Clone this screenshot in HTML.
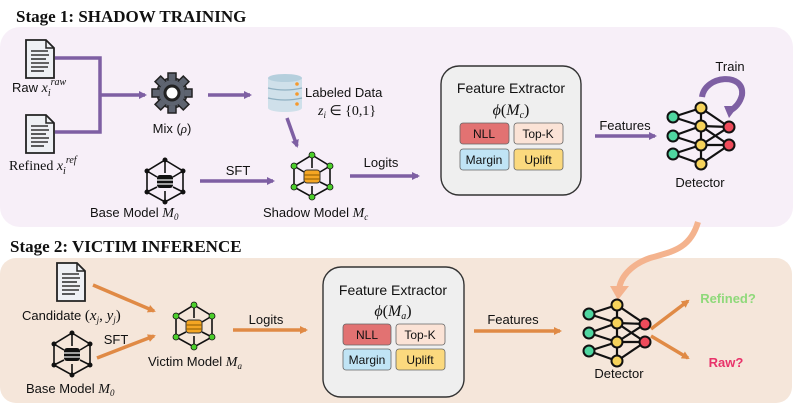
<!DOCTYPE html>
<html><head><meta charset="utf-8"><style>
body{margin:0;background:#fff}
svg{display:block}
text{font-family:"Liberation Sans","DejaVu Sans",sans-serif;fill:#111}
.s{font-family:"Liberation Serif",serif;font-weight:bold;font-size:17px}
.m{font-family:"Liberation Serif",serif;font-style:italic}
</style></head><body>
<svg width="793" height="406" viewBox="0 0 793 406" xmlns="http://www.w3.org/2000/svg">
<defs>
<marker id="ap" markerWidth="8" markerHeight="8" refX="6" refY="4" orient="auto" markerUnits="userSpaceOnUse"><path d="M0,0 L8,4 L0,8 Z" fill="#7e5fa3"/></marker>
<marker id="ao" markerWidth="8" markerHeight="8" refX="6" refY="4" orient="auto" markerUnits="userSpaceOnUse"><path d="M0,0 L8,4 L0,8 Z" fill="#e08a45"/></marker>
<g id="doc">
<path d="M0,0 H20 L28,8 V38 H0 Z" fill="#eef0f4" stroke="#222" stroke-width="1.8"/>
<path d="M20,0 V8 H28" fill="none" stroke="#222" stroke-width="1.5"/>
<g stroke="#333" stroke-width="1.6"><line x1="5" y1="11" x2="22" y2="11"/><line x1="5" y1="15" x2="23" y2="15"/><line x1="5" y1="19" x2="20" y2="19"/><line x1="5" y1="23" x2="23" y2="23"/><line x1="5" y1="27" x2="22" y2="27"/><line x1="5" y1="31" x2="18" y2="31"/></g>
</g>
<g id="cube">
<g stroke="#111" stroke-width="1.6" fill="none">
<path d="M0,-21 L18,-10 L18,11 L0,21 L-18,11 L-18,-10 Z"/>
<path d="M0,-21 L0,-8 M-18,-10 L-8,-4 M18,-10 L8,-4 M-18,11 L-8,6 M18,11 L8,6 M0,21 L0,10"/>
</g>
</g>
<g id="nn">
<g stroke="#111" stroke-width="2.2">
<line x1="-28" y1="-18" x2="0" y2="-27"/><line x1="-28" y1="-18" x2="0" y2="-9"/>
<line x1="-28" y1="1" x2="0" y2="-9"/><line x1="-28" y1="1" x2="0" y2="10"/>
<line x1="-28" y1="19" x2="0" y2="10"/><line x1="-28" y1="19" x2="0" y2="29"/>
<line x1="0" y1="-27" x2="0" y2="29"/>
<line x1="0" y1="-27" x2="28" y2="-8"/><line x1="0" y1="-9" x2="28" y2="-8"/><line x1="0" y1="-9" x2="28" y2="10"/>
<line x1="0" y1="10" x2="28" y2="-8"/><line x1="0" y1="10" x2="28" y2="10"/><line x1="0" y1="29" x2="28" y2="10"/>
</g>
<g stroke="#111" stroke-width="2">
<circle cx="-28" cy="-18" r="5.5" fill="#4fd6a0"/><circle cx="-28" cy="1" r="5.5" fill="#4fd6a0"/><circle cx="-28" cy="19" r="5.5" fill="#4fd6a0"/>
<circle cx="0" cy="-27" r="5.5" fill="#f6d35b"/><circle cx="0" cy="-9" r="5.5" fill="#f6d35b"/><circle cx="0" cy="10" r="5.5" fill="#f6d35b"/><circle cx="0" cy="29" r="5.5" fill="#f6d35b"/>
<circle cx="28" cy="-8" r="5.5" fill="#ee4b5b"/><circle cx="28" cy="10" r="5.5" fill="#ee4b5b"/>
</g>
</g>
</defs>

<text x="16" y="22" class="s">Stage 1: SHADOW TRAINING</text>
<rect x="0" y="27" width="793" height="200" rx="20" fill="#f7eff8"/>
<text x="10" y="252" class="s">Stage 2: VICTIM INFERENCE</text>
<rect x="0" y="258" width="792" height="145" rx="16" fill="#f5e6da"/>

<!-- Stage 1 -->
<use href="#doc" x="26" y="40"/>
<use href="#doc" x="26" y="115"/>
<text x="12" y="92" font-size="13">Raw <tspan class="m" font-size="14">x</tspan><tspan class="m" font-size="10" dy="4">i</tspan><tspan class="m" font-size="10" dy="-11">raw</tspan></text>
<text x="9" y="170" font-size="14" style="font-family:'Liberation Serif',serif">Refined <tspan class="m">x</tspan><tspan class="m" font-size="10" dy="4">i</tspan><tspan class="m" font-size="10" dy="-11">ref</tspan></text>
<g stroke="#7e5fa3" stroke-width="3.5" fill="none">
<path d="M55,58 H100 V132 H55"/>
<line x1="100" y1="95" x2="145" y2="95" marker-end="url(#ap)"/>
<line x1="208" y1="95" x2="250" y2="95" marker-end="url(#ap)"/>
<line x1="287" y1="118" x2="297" y2="146" marker-end="url(#ap)"/>
<line x1="200" y1="181" x2="273" y2="181" marker-end="url(#ap)"/>
<line x1="350" y1="176" x2="418" y2="176" marker-end="url(#ap)"/>
<line x1="595" y1="136" x2="655" y2="136" marker-end="url(#ap)"/>
<path d="M702,97 C705,75 745,72 742,95 C740,103 735,108 731,110" stroke-width="6"/>
</g>
<path d="M724,106 L738,106 L729,118 Z" fill="#7e5fa3"/>
<!-- gear -->
<g transform="translate(172,93)">
<g fill="#5e6470" stroke="#222" stroke-width="1.5">
<circle r="15"/>
<g><rect x="-4" y="-20" width="8" height="8"/><rect x="-4" y="12" width="8" height="8"/><rect x="-20" y="-4" width="8" height="8"/><rect x="12" y="-4" width="8" height="8"/>
<rect x="-4" y="-20" width="8" height="8" transform="rotate(45)"/><rect x="-4" y="12" width="8" height="8" transform="rotate(45)"/><rect x="-20" y="-4" width="8" height="8" transform="rotate(45)"/><rect x="12" y="-4" width="8" height="8" transform="rotate(45)"/></g>
</g>
<circle r="13" fill="#5e6470"/>
<circle r="7" fill="#fff" stroke="#222" stroke-width="3"/>
</g>
<text x="172" y="133" font-size="13" text-anchor="middle">Mix (<tspan class="m">ρ</tspan>)</text>
<!-- db -->
<g transform="translate(268,74)">
<rect x="0" y="4" width="34" height="30" fill="#cfe0ea"/>
<ellipse cx="17" cy="4" rx="17" ry="4" fill="#b5cfdd"/>
<ellipse cx="17" cy="34" rx="17" ry="4" fill="#cfe0ea"/>
<g stroke="#8fb0c2" stroke-width="1.2" fill="none"><path d="M0,14 Q17,18 34,14"/><path d="M0,24 Q17,28 34,24"/></g>
<circle cx="29" cy="10" r="1.8" fill="#f59a2e"/><circle cx="29" cy="20" r="1.8" fill="#f59a2e"/><circle cx="29" cy="30" r="1.8" fill="#f59a2e"/>
</g>
<text x="305" y="97" font-size="13">Labeled Data</text>
<text x="318" y="115" font-size="14" class="m">z<tspan font-size="9" dy="3">i</tspan><tspan dy="-3" font-style="normal"> ∈ {0,1}</tspan></text>
<!-- base model 1 -->
<g transform="translate(165,181)"><use href="#cube"/>
<g fill="#111"><circle cx="0" cy="-21" r="2.5"/><circle cx="18" cy="-10" r="2.5"/><circle cx="18" cy="11" r="2.5"/><circle cx="0" cy="21" r="2.5"/><circle cx="-18" cy="11" r="2.5"/><circle cx="-18" cy="-10" r="2.5"/></g>
<rect x="-8" y="-6" width="16" height="13" rx="3" fill="#111"/><g stroke="#fff" stroke-width="1.2"><line x1="-8" y1="-1" x2="8" y2="-1"/><line x1="-8" y1="3" x2="8" y2="3"/></g>
</g>
<text x="90" y="217" font-size="13">Base Model <tspan class="m" font-size="14">M</tspan><tspan class="m" font-size="9" dy="3">0</tspan></text>
<text x="238" y="175" font-size="13" text-anchor="middle">SFT</text>
<!-- shadow -->
<g transform="translate(312,176)"><use href="#cube"/>
<g fill="#4ccf2b" stroke="#111" stroke-width="0.8"><circle cx="0" cy="-21" r="3"/><circle cx="18" cy="-10" r="3"/><circle cx="18" cy="11" r="3"/><circle cx="0" cy="21" r="3"/><circle cx="-18" cy="11" r="3"/><circle cx="-18" cy="-10" r="3"/></g>
<rect x="-8" y="-6" width="16" height="13" rx="3" fill="#f5a623" stroke="#333"/><g stroke="#8a5a00" stroke-width="1"><line x1="-8" y1="-1" x2="8" y2="-1"/><line x1="-8" y1="3" x2="8" y2="3"/></g>
</g>
<text x="263" y="217" font-size="13">Shadow Model <tspan class="m" font-size="14">M</tspan><tspan class="m" font-size="9" dy="3">c</tspan></text>
<text x="381" y="167" font-size="13" text-anchor="middle">Logits</text>
<!-- FE1 -->
<rect x="441" y="66" width="140" height="129" rx="18" fill="#efefef" stroke="#333" stroke-width="1.4"/>
<text x="511" y="93" font-size="14" text-anchor="middle">Feature Extractor</text>
<text x="511" y="115" font-size="16" text-anchor="middle" style="font-family:'Liberation Serif',serif"><tspan class="m">ϕ</tspan>(<tspan class="m">M</tspan><tspan class="m" font-size="10" dy="3">c</tspan><tspan dy="-3">)</tspan></text>
<g stroke="#666" stroke-width="0.8">
<rect x="460" y="123" width="49" height="21" rx="3" fill="#e27272"/><rect x="514" y="123" width="49" height="21" rx="3" fill="#fbe3d6"/>
<rect x="460" y="149" width="49" height="21" rx="3" fill="#c0e4f5"/><rect x="514" y="149" width="49" height="21" rx="3" fill="#fbd97e"/>
</g>
<g font-size="12" text-anchor="middle"><text x="484" y="138">NLL</text><text x="538" y="138">Top-K</text><text x="484" y="164">Margin</text><text x="538" y="164">Uplift</text></g>
<text x="625" y="130" font-size="13" text-anchor="middle">Features</text>
<use href="#nn" x="701" y="135"/>
<text x="700" y="187" font-size="13" text-anchor="middle">Detector</text>
<text x="730" y="71" font-size="13" text-anchor="middle">Train</text>

<!-- curved orange -->
<path d="M698,222 C690,250 670,252 650,258 C630,265 620,278 619,290" stroke="#f4b38e" stroke-width="6" fill="none"/>
<path d="M610,286 L629,286 L618,300 Z" fill="#f4b38e"/>

<!-- Stage 2 -->
<use href="#doc" x="57" y="263"/>
<text x="22" y="320" font-size="13">Candidate <tspan style="font-family:'Liberation Serif',serif" font-size="15">(<tspan class="m">x</tspan><tspan class="m" font-size="9" dy="3">j</tspan><tspan dy="-3">, </tspan><tspan class="m">y</tspan><tspan class="m" font-size="9" dy="3">j</tspan><tspan dy="-3">)</tspan></tspan></text>
<g stroke="#e08a45" stroke-width="3.5" fill="none">
<line x1="93" y1="285" x2="154" y2="311" marker-end="url(#ao)"/>
<line x1="97" y1="358" x2="154" y2="336" marker-end="url(#ao)"/>
<line x1="233" y1="330" x2="306" y2="330" marker-end="url(#ao)"/>
<line x1="474" y1="331" x2="560" y2="331" marker-end="url(#ao)"/>
<line x1="651" y1="329" x2="688" y2="301" marker-end="url(#ao)"/>
<line x1="651" y1="336" x2="688" y2="358" marker-end="url(#ao)"/>
</g>
<g transform="translate(72,354)"><use href="#cube"/>
<g fill="#111"><circle cx="0" cy="-21" r="2.5"/><circle cx="18" cy="-10" r="2.5"/><circle cx="18" cy="11" r="2.5"/><circle cx="0" cy="21" r="2.5"/><circle cx="-18" cy="11" r="2.5"/><circle cx="-18" cy="-10" r="2.5"/></g>
<rect x="-8" y="-6" width="16" height="13" rx="3" fill="#111"/><g stroke="#fff" stroke-width="1.2"><line x1="-8" y1="-1" x2="8" y2="-1"/><line x1="-8" y1="3" x2="8" y2="3"/></g>
</g>
<text x="26" y="393" font-size="13">Base Model <tspan class="m" font-size="14">M</tspan><tspan class="m" font-size="9" dy="3">0</tspan></text>
<text x="116" y="344" font-size="13" text-anchor="middle">SFT</text>
<g transform="translate(194,326)"><use href="#cube"/>
<g fill="#4ccf2b" stroke="#111" stroke-width="0.8"><circle cx="0" cy="-21" r="3"/><circle cx="18" cy="-10" r="3"/><circle cx="18" cy="11" r="3"/><circle cx="0" cy="21" r="3"/><circle cx="-18" cy="11" r="3"/><circle cx="-18" cy="-10" r="3"/></g>
<rect x="-8" y="-6" width="16" height="13" rx="3" fill="#f5a623" stroke="#333"/><g stroke="#8a5a00" stroke-width="1"><line x1="-8" y1="-1" x2="8" y2="-1"/><line x1="-8" y1="3" x2="8" y2="3"/></g>
</g>
<text x="148" y="366" font-size="13">Victim Model <tspan class="m" font-size="14">M</tspan><tspan class="m" font-size="9" dy="3">a</tspan></text>
<text x="266" y="324" font-size="13" text-anchor="middle">Logits</text>
<rect x="323" y="267" width="141" height="130" rx="18" fill="#efefef" stroke="#333" stroke-width="1.4"/>
<text x="393" y="295" font-size="14" text-anchor="middle">Feature Extractor</text>
<text x="393" y="316" font-size="16" text-anchor="middle" style="font-family:'Liberation Serif',serif"><tspan class="m">ϕ</tspan>(<tspan class="m">M</tspan><tspan class="m" font-size="10" dy="3">a</tspan><tspan dy="-3">)</tspan></text>
<g stroke="#666" stroke-width="0.8">
<rect x="343" y="324" width="48" height="21" rx="3" fill="#e27272"/><rect x="396" y="324" width="49" height="21" rx="3" fill="#fbe3d6"/>
<rect x="343" y="349" width="48" height="21" rx="3" fill="#c0e4f5"/><rect x="396" y="349" width="49" height="21" rx="3" fill="#fbd97e"/>
</g>
<g font-size="12" text-anchor="middle"><text x="367" y="339">NLL</text><text x="420" y="339">Top-K</text><text x="367" y="364">Margin</text><text x="420" y="364">Uplift</text></g>
<text x="513" y="324" font-size="13" text-anchor="middle">Features</text>
<use href="#nn" x="617" y="332"/>
<text x="619" y="378" font-size="13" text-anchor="middle">Detector</text>
<text x="728" y="303" font-size="13" font-weight="bold" text-anchor="middle" style="fill:#8fd97a">Refined?</text>
<text x="726" y="367" font-size="13" font-weight="bold" text-anchor="middle" style="fill:#e8336a">Raw?</text>
</svg>
</body></html>
